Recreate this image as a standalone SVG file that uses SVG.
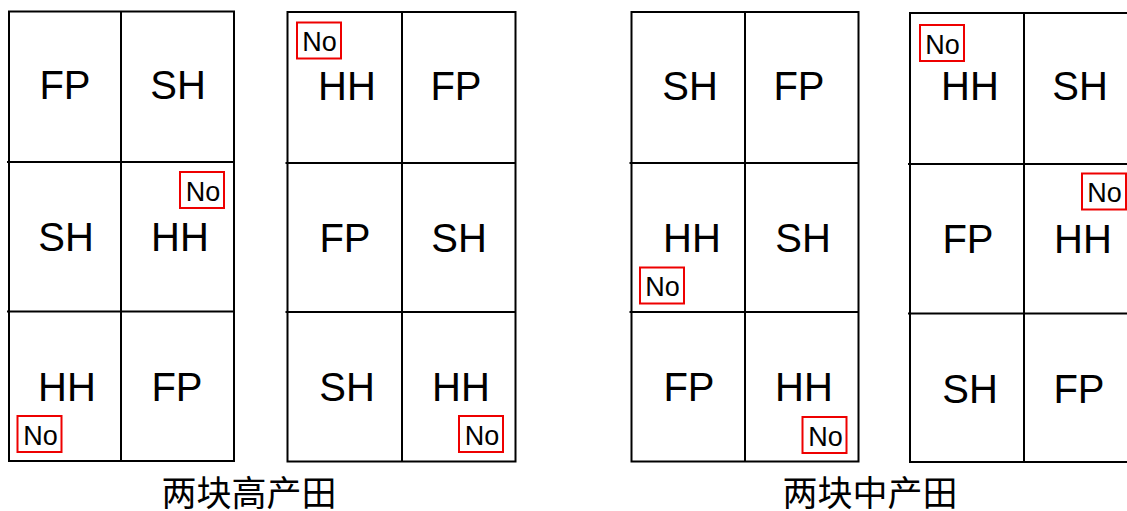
<svg xmlns="http://www.w3.org/2000/svg" width="1127" height="511" viewBox="0 0 1127 511">
<style>
.g{fill:none;stroke:#000;stroke-width:2}
.t{font-family:"Liberation Sans",Arial,sans-serif;font-size:40px;fill:#000;text-anchor:middle}
.nb{fill:#fff;stroke:#e00;stroke-width:2}
.nt{font-family:"Liberation Sans",Arial,sans-serif;font-size:27px;fill:#000;text-anchor:middle}
.cap{font-family:"Noto Sans CJK SC","Noto Sans CJK JP",sans-serif;font-size:35px;fill:#000;text-anchor:middle}
</style>
<rect width="1127" height="511" fill="#fff"/>
<g id="grid1">
<rect class="g" x="9" y="11.5" width="225" height="449.5"/>
<line class="g" x1="121" y1="11.5" x2="121" y2="461"/>
<line class="g" x1="7" y1="162" x2="234" y2="162"/>
<line class="g" x1="7" y1="311.5" x2="234" y2="311.5"/>
<text class="t" x="65" y="99">FP</text>
<text class="t" x="178" y="99">SH</text>
<text class="t" x="66" y="251">SH</text>
<text class="t" x="180" y="251">HH</text>
<text class="t" x="67" y="401">HH</text>
<text class="t" x="177" y="401">FP</text>
<rect class="nb" x="180" y="172" width="44" height="36"/>
<text class="nt" x="203" y="201">No</text>
<rect class="nb" x="17.5" y="416" width="44" height="36"/>
<text class="nt" x="40.5" y="445">No</text>
</g>
<g id="grid2">
<rect class="g" x="287.5" y="12" width="228" height="449.5"/>
<line class="g" x1="402" y1="12" x2="402" y2="461.5"/>
<line class="g" x1="285.5" y1="163" x2="515.5" y2="163"/>
<line class="g" x1="285.5" y1="312" x2="515.5" y2="312"/>
<text class="t" x="347" y="100">HH</text>
<text class="t" x="456" y="100">FP</text>
<text class="t" x="345" y="252">FP</text>
<text class="t" x="459" y="252">SH</text>
<text class="t" x="347" y="401">SH</text>
<text class="t" x="461" y="401">HH</text>
<rect class="nb" x="297" y="22.5" width="44" height="36"/>
<text class="nt" x="319.5" y="51">No</text>
<rect class="nb" x="459" y="416" width="44" height="36"/>
<text class="nt" x="482" y="445">No</text>
</g>
<g id="grid3">
<rect class="g" x="631.5" y="12" width="227" height="449.5"/>
<line class="g" x1="745" y1="12" x2="745" y2="461.5"/>
<line class="g" x1="629.5" y1="163" x2="858.5" y2="163"/>
<line class="g" x1="629.5" y1="312" x2="858.5" y2="312"/>
<text class="t" x="690" y="100">SH</text>
<text class="t" x="799" y="100">FP</text>
<text class="t" x="692" y="252">HH</text>
<text class="t" x="803" y="252">SH</text>
<text class="t" x="689" y="401">FP</text>
<text class="t" x="804" y="401">HH</text>
<rect class="nb" x="640" y="267.5" width="44" height="36"/>
<text class="nt" x="662.5" y="296">No</text>
<rect class="nb" x="802.5" y="417" width="44" height="36"/>
<text class="nt" x="825.5" y="446">No</text>
</g>
<g id="grid4">
<rect class="g" x="910" y="13" width="230" height="449"/>
<line class="g" x1="1024" y1="13" x2="1024" y2="462"/>
<line class="g" x1="908" y1="164" x2="1140" y2="164"/>
<line class="g" x1="908" y1="313.5" x2="1140" y2="313.5"/>
<text class="t" x="970" y="100">HH</text>
<text class="t" x="1080" y="100">SH</text>
<text class="t" x="968" y="253">FP</text>
<text class="t" x="1083" y="253">HH</text>
<text class="t" x="970" y="403">SH</text>
<text class="t" x="1079" y="403">FP</text>
<rect class="nb" x="920" y="25" width="44" height="36"/>
<text class="nt" x="942.5" y="54">No</text>
<rect class="nb" x="1082" y="173.5" width="44" height="36"/>
<text class="nt" x="1104.5" y="202">No</text>
</g>
<g id="labels">
<text class="cap" x="249" y="506">两块高产田</text>
<text class="cap" x="870" y="506">两块中产田</text>
</g>
</svg>
